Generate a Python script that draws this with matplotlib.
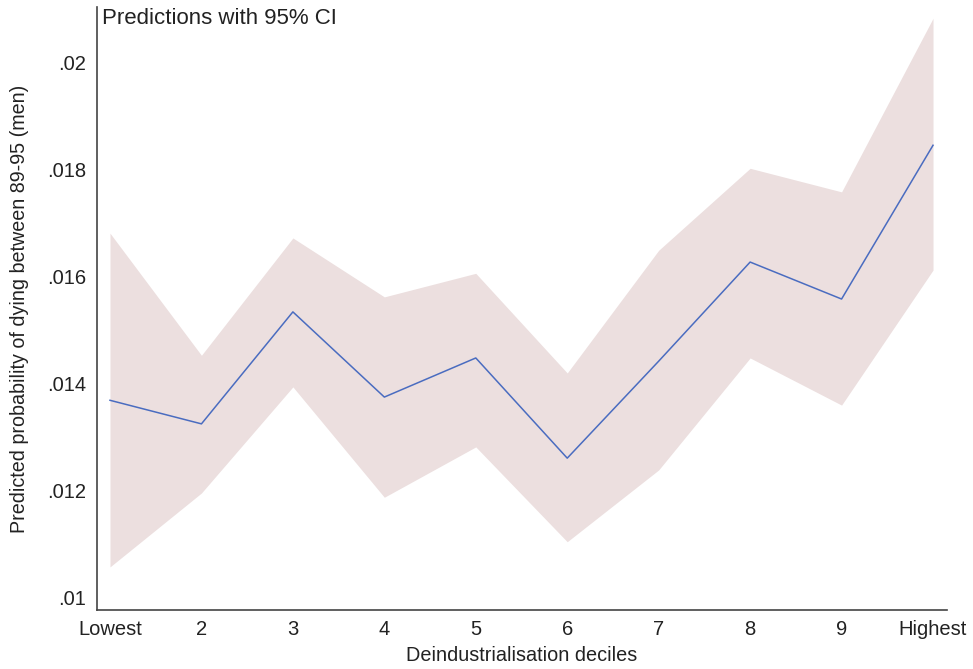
import matplotlib
matplotlib.use("Agg")
import matplotlib.pyplot as plt
import numpy as np

plt.rcParams["font.family"] = ["Liberation Sans", "DejaVu Sans"]

deciles = ["Lowest", "2", "3", "4", "5", "6", "7", "8", "9", "Highest"]
predicted = [0.01369, 0.01325, 0.01534, 0.01375, 0.01448, 0.01261, 0.01442, 0.01627, 0.01558, 0.01845]
ci_upper = [0.01681, 0.01453, 0.01672, 0.01562, 0.01606, 0.01420, 0.01649, 0.01802, 0.01758, 0.02082]
ci_lower = [0.01058, 0.01196, 0.01394, 0.01188, 0.01282, 0.01105, 0.01239, 0.01448, 0.01360, 0.01612]
y_ticks = [0.01, 0.012, 0.014, 0.016, 0.018, 0.02]
y_tick_labels = [".01", ".012", ".014", ".016", ".018", ".02"]

x = np.arange(len(deciles))

fig = plt.figure(figsize=(9.73, 6.69), dpi=100)
ax = fig.add_axes([0.0997, 0.0882, 0.8736, 0.9013])

ax.fill_between(x, ci_lower, ci_upper, color="#ecdfdf", linewidth=0)
ax.plot(x, predicted, color="#4a6cc0", linewidth=1.1)

ax.set_xlim(-0.142, 9.153)
ax.set_ylim(0.009776, 0.02103)
ax.set_xticks(x)
ax.set_xticklabels(deciles)
ax.set_yticks(y_ticks)
ax.set_yticklabels(y_tick_labels)
ax.tick_params(axis="both", length=0, labelsize=14.5, colors="#222222")
ax.tick_params(axis="y", pad=8)
ax.tick_params(axis="x", pad=7)

for side in ("top", "right"):
    ax.spines[side].set_visible(False)
for side in ("left", "bottom"):
    ax.spines[side].set_color("#444444")
    ax.spines[side].set_linewidth(1.2)

ax.set_xlabel("Deindustrialisation deciles", fontsize=14.3, labelpad=5, color="#222222")
ax.set_ylabel("Predicted probability of dying between 89-95 (men)", fontsize=14.2, labelpad=13, color="#222222")
ax.text(0.006, 0.998, "Predictions with 95% CI", transform=ax.transAxes,
        ha="left", va="top", fontsize=16, color="#222222")

fig.savefig("out.png", dpi=100)
